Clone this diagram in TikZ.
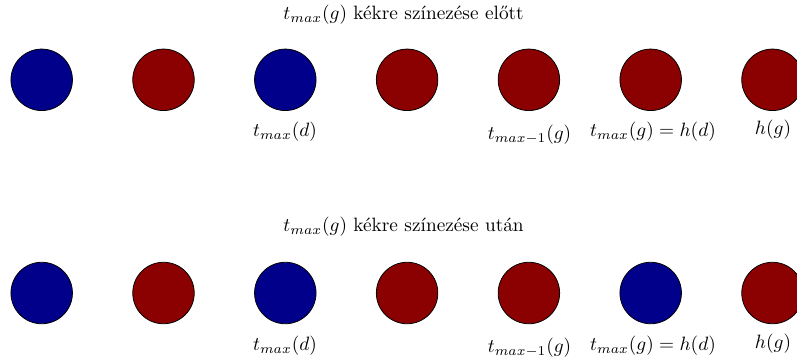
\documentclass[tikz,border=0pt]{standalone}
\usepackage{tikz}
\definecolor{vblue}{RGB}{0,0,139}
\definecolor{vred}{RGB}{139,0,0}
\tikzset{
  vtx/.style={circle, draw=black, line width=0.4pt, minimum size=61.5*0.518pt, inner sep=0pt},
  bl/.style={vtx, fill=vblue},
  rd/.style={vtx, fill=vred},
  lbl/.style={inner sep=0pt, anchor=center},
  ttl/.style={inner sep=0pt, anchor=west}
}
\begin{document}
\begin{tikzpicture}[x=0.518pt, y=-0.518pt]
\useasboundingbox (0,0) rectangle (797,360);
% top row
\node[ttl] (t1) at (283,15) {$t_{max}(g)$ kékre színezése előtt};
\node[bl] (a1) at (41.7,79.8) {};
\node[rd] (a2) at (163.5,79.8) {};
\node[bl] (a3) at (285.3,79.8) {};
\node[rd] (a4) at (407.1,79.8) {};
\node[rd] (a5) at (528.9,79.8) {};
\node[rd] (a6) at (650.7,79.8) {};
\node[rd] (a7) at (772.5,79.8) {};
\node[lbl] (la3) at (285,132) {$t_{max}(d)$};
\node[lbl] (la5) at (529.5,134.5) {$t_{max-1}(g)$};
\node[lbl] (la6) at (653,132) {$t_{max}(g)=h(d)$};
\node[lbl] (la7) at (773,130) {$h(g)$};
% bottom row
\node[ttl] (t2) at (283,227) {$t_{max}(g)$ kékre színezése után};
\node[bl] (b1) at (41.7,293) {};
\node[rd] (b2) at (163.5,293) {};
\node[bl] (b3) at (285.3,293) {};
\node[rd] (b4) at (407.1,293) {};
\node[rd] (b5) at (528.9,293) {};
\node[bl] (b6) at (650.7,293) {};
\node[rd] (b7) at (772.5,293) {};
\node[lbl] (lb3) at (285,345.5) {$t_{max}(d)$};
\node[lbl] (lb5) at (529.5,348) {$t_{max-1}(g)$};
\node[lbl] (lb6) at (653,345.5) {$t_{max}(g)=h(d)$};
\node[lbl] (lb7) at (773,343.5) {$h(g)$};
\end{tikzpicture}
\end{document}
